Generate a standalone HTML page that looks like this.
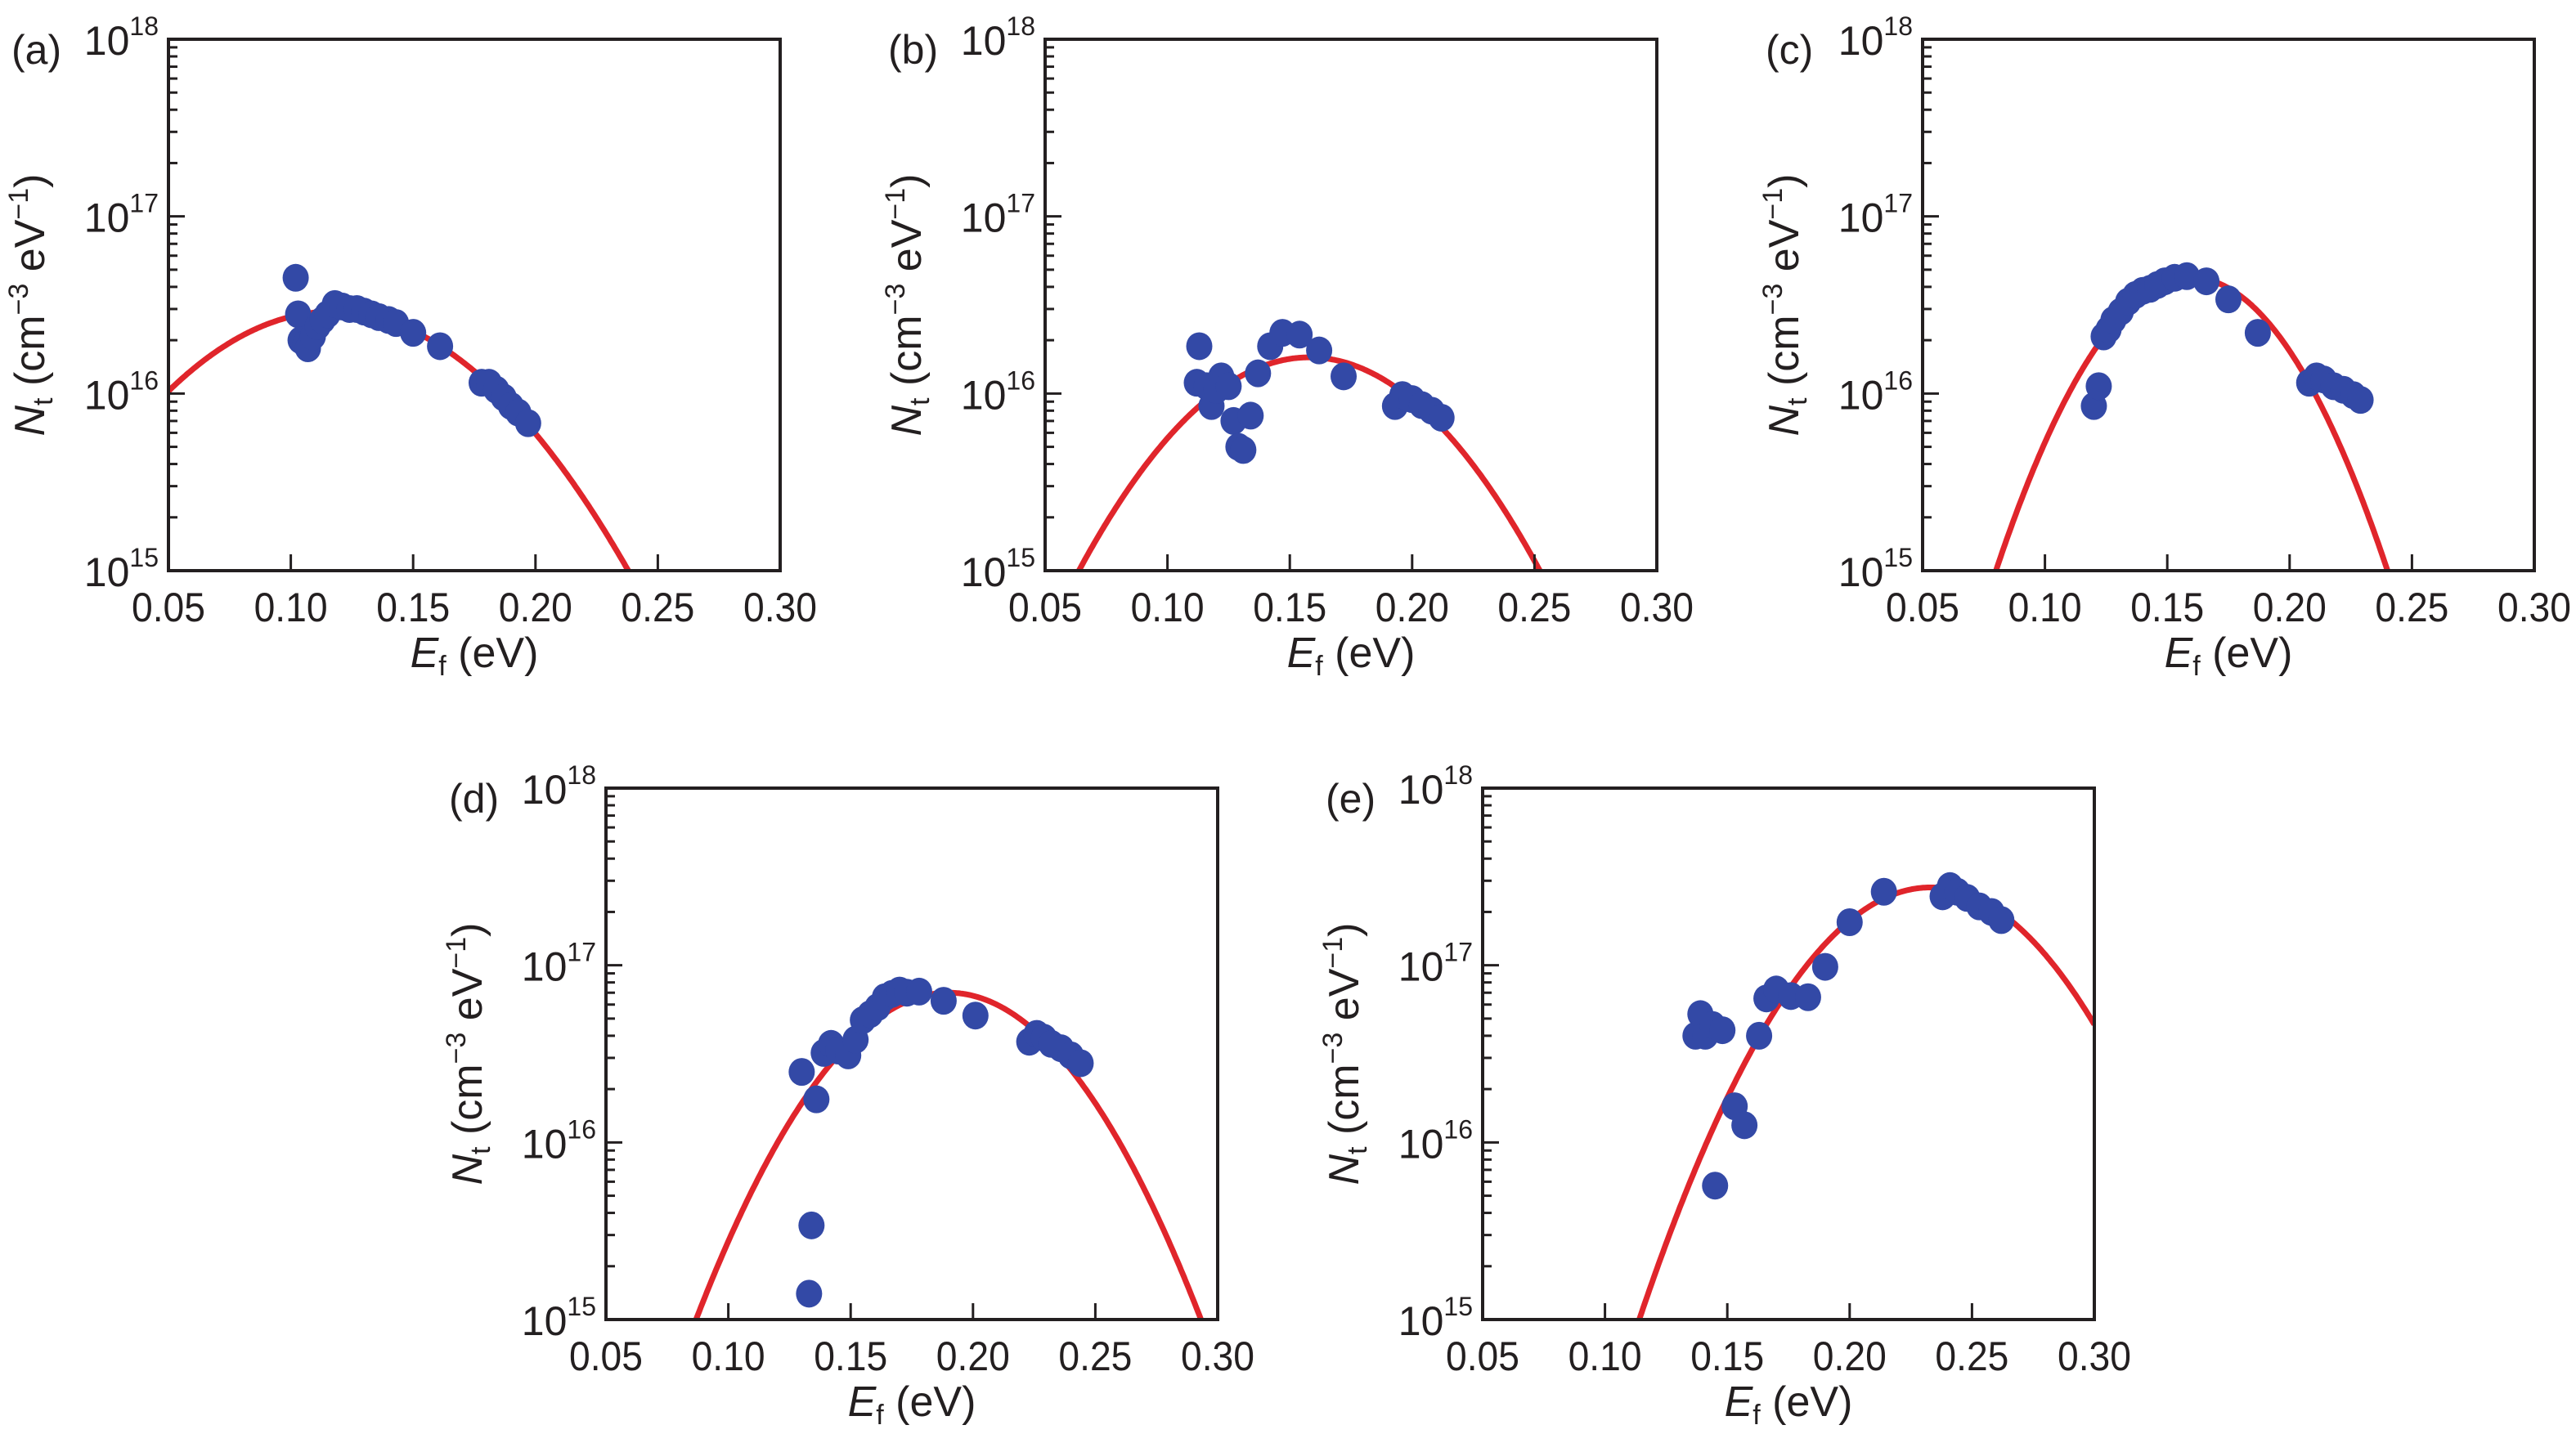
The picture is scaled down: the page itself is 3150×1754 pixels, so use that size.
<!DOCTYPE html>
<html><head><meta charset="utf-8">
<style>
html,body{margin:0;padding:0;background:#fff;}
svg{display:block;font-family:"Liberation Sans",sans-serif;}
</style></head>
<body>
<svg id="fig" width="3150" height="1754" viewBox="0 0 3150 1754" xmlns="http://www.w3.org/2000/svg"></svg>
<script>
// Panel (a)
const aE = [0.102,0.103,0.104,0.106,0.107,0.109,0.111,0.113,0.115,0.118,0.121,0.124,0.127,0.130,0.133,0.136,0.140,0.143,0.150,0.161,0.178,0.181,0.184,0.187,0.190,0.193,0.197];
const aN = [4.5e16,2.8e16,2.0e16,1.9e16,1.8e16,2.1e16,2.4e16,2.6e16,2.8e16,3.2e16,3.1e16,3.0e16,3.0e16,2.9e16,2.8e16,2.7e16,2.6e16,2.5e16,2.2e16,1.85e16,1.15e16,1.15e16,1.05e16,9.5e15,8.5e15,7.8e15,6.8e15];
// Panel (b)
const bE = [0.112,0.113,0.116,0.118,0.120,0.122,0.125,0.127,0.129,0.131,0.134,0.137,0.142,0.147,0.154,0.162,0.172,0.193,0.196,0.200,0.204,0.208,0.212];
const bN = [1.15e16,1.85e16,1.1e16,8.5e15,1.05e16,1.25e16,1.1e16,7e15,5e15,4.8e15,7.5e15,1.3e16,1.85e16,2.2e16,2.15e16,1.75e16,1.25e16,8.5e15,9.8e15,9.3e15,8.6e15,8e15,7.3e15];
// Panel (c)
const cE = [0.120,0.122,0.124,0.126,0.128,0.131,0.134,0.137,0.140,0.143,0.146,0.149,0.153,0.158,0.166,0.175,0.187,0.208,0.211,0.214,0.218,0.222,0.226,0.229];
const cN = [8.5e15,1.1e16,2.1e16,2.3e16,2.6e16,2.9e16,3.3e16,3.6e16,3.8e16,3.9e16,4.1e16,4.3e16,4.5e16,4.6e16,4.3e16,3.4e16,2.2e16,1.15e16,1.25e16,1.2e16,1.1e16,1.05e16,9.8e15,9.2e15];
// Panel (d)
const dE = [0.130,0.133,0.134,0.136,0.139,0.142,0.145,0.149,0.152,0.155,0.158,0.161,0.164,0.167,0.170,0.173,0.178,0.188,0.201,0.223,0.226,0.229,0.232,0.236,0.240,0.244];
const dN = [2.5e16,1.4e15,3.4e15,1.75e16,3.2e16,3.6e16,3.3e16,3.1e16,3.8e16,4.9e16,5.3e16,5.8e16,6.6e16,6.9e16,7.2e16,7.0e16,7.1e16,6.3e16,5.2e16,3.7e16,4.1e16,3.9e16,3.6e16,3.4e16,3.1e16,2.8e16];
// Panel (e)
const eE = [0.137,0.139,0.141,0.144,0.145,0.148,0.153,0.157,0.163,0.166,0.170,0.176,0.183,0.190,0.200,0.214,0.238,0.241,0.244,0.248,0.253,0.258,0.262];
const eN = [4e16,5.3e16,4e16,4.6e16,5.7e15,4.3e16,1.6e16,1.25e16,4e16,6.5e16,7.3e16,6.7e16,6.6e16,9.8e16,1.75e17,2.6e17,2.45e17,2.8e17,2.6e17,2.4e17,2.15e17,2.0e17,1.8e17];
// Gaussian fit parameters (center, peak, sigma) per panel a..e
const fitCenter = [0.117,0.158,0.160,0.190,0.233];
const fitPeak = [2.9e16,1.6e16,4.5e16,7.0e16,2.75e17];
const fitSigma = [0.0466,0.0400,0.0290,0.0354,0.0355];
const panelLabels = ["(a)","(b)","(c)","(d)","(e)"];
const xTicks = [0.05,0.10,0.15,0.20,0.25,0.30];
const xTickLabels = ["0.05","0.10","0.15","0.20","0.25","0.30"];
const yDecades = [15,16,17,18];

const NS="http://www.w3.org/2000/svg";
const svg=document.getElementById('fig');
function mk(tag,attrs,parent){const e=document.createElementNS(NS,tag);for(const k in attrs)e.setAttribute(k,attrs[k]);(parent||svg).appendChild(e);return e;}

const boxes=[[206,48],[1278,48],[2351,48],[741,964],[1813,964]];
const W=748,H=650;
const dataE=[aE,bE,cE,dE,eE], dataN=[aN,bN,cN,dN,eN];
const ids=['a','b','c','d','e'];

boxes.forEach((b,i)=>{
  const [L,T]=b;
  const g=mk('g',{});
  
  
  const xs=v=>L+(v-0.05)/0.25*W;
  const ys=n=>T+H-(Math.log10(n)-15)/3*H;
  const clipId='clip'+i;
  const cp=mk('clipPath',{id:clipId},g);
  mk('rect',{x:L,y:T,width:W,height:H},cp);
  let d='';
  for(let k=0;k<=400;k++){
    const E=0.05+0.25*k/400;
    const N=fitPeak[i]*Math.exp(-Math.pow(E-fitCenter[i],2)/(2*fitSigma[i]*fitSigma[i]));
    const y=Math.max(ys(Math.max(N,1e13)),0);
    d+=(k?'L':'M')+xs(E).toFixed(1)+' '+Math.min(y,T+H+50).toFixed(1);
  }
  const curve=mk('path',{d:d,fill:'none',stroke:'#e0252b','stroke-width':7,'clip-path':'url(#'+clipId+')'},g);
  
  
  dataE[i].forEach((E,j)=>{
    const c=mk('ellipse',{cx:xs(E),cy:ys(dataN[i][j]),rx:16,ry:17,fill:'#3349a6'},g);
    
    
  });
  const fr=mk('rect',{x:L,y:T,width:W,height:H,fill:'none',stroke:'#231f20','stroke-width':4},g);
  
  
  xTicks.forEach((v,j)=>{
    mk('line',{x1:xs(v),x2:xs(v),y1:T+H,y2:T+H-20,stroke:'#231f20','stroke-width':3},g);
    const t=mk('text',{x:xs(v),y:T+H+62,'font-size':50,'text-anchor':'middle',fill:'#231f20',textLength:90,lengthAdjust:'spacingAndGlyphs'},g);
    t.textContent=xTickLabels[j];
    
    
  });
  yDecades.forEach((p,j)=>{
    const y=ys(Math.pow(10,p));
    mk('line',{x1:L,x2:L+20,y1:y,y2:y,stroke:'#231f20','stroke-width':3},g);
    if(j<3){for(let m=2;m<=9;m++){const ym=ys(m*Math.pow(10,p));mk('line',{x1:L,x2:L+11,y1:ym,y2:ym,stroke:'#231f20','stroke-width':3},g);}}
    const t=mk('text',{x:L-12,y:y+19,'font-size':50,'text-anchor':'end',fill:'#231f20'},g);
    
    
    const s1=mk('tspan',{},t);s1.textContent='10';
    const s2=mk('tspan',{dy:-24,'font-size':32},t);s2.textContent=String(p);
  });
  const pl=mk('text',{x:L-192,y:T+30,'font-size':50,fill:'#231f20'},g);
  pl.textContent=panelLabels[i];
  
  
  const xl=mk('text',{x:L+W/2,y:T+H+118,'font-size':52,'text-anchor':'middle',fill:'#231f20'},g);
  
  
  const a1=mk('tspan',{'font-style':'italic'},xl);a1.textContent='E';
  const a2=mk('tspan',{'font-size':34,dy:10},xl);a2.textContent='f';
  const a3=mk('tspan',{dy:-10},xl);a3.textContent=' (eV)';
  const yl=mk('text',{x:0,y:0,'font-size':52,'text-anchor':'middle',fill:'#231f20',transform:'translate('+(L-152)+','+(T+H/2)+') rotate(-90)'},g);
  
  
  const b1=mk('tspan',{'font-style':'italic'},yl);b1.textContent='N';
  const b2=mk('tspan',{'font-size':34,dy:10},yl);b2.textContent='t';
  const b3=mk('tspan',{dy:-10},yl);b3.textContent=' (cm';
  const b4=mk('tspan',{'font-size':34,dy:-20},yl);b4.textContent='\u22123';
  const b5=mk('tspan',{dy:20},yl);b5.textContent=' eV';
  const b6=mk('tspan',{'font-size':34,dy:-20},yl);b6.textContent='\u22121';
  const b7=mk('tspan',{dy:20},yl);b7.textContent=')';
});
</script>
</body></html>
